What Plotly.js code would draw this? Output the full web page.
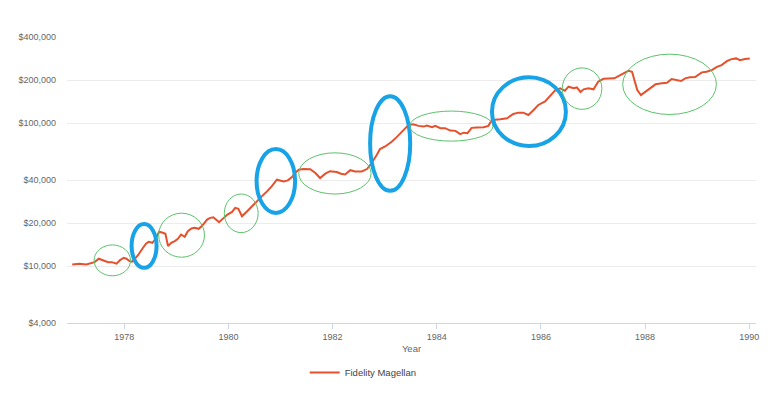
<!DOCTYPE html>
<html>
<head>
<meta charset="utf-8">
<script src="https://cdn.plot.ly/plotly-3.0.1.min.js"></script>
<style>html,body{margin:0;padding:0;background:#fff;}#chart{width:773px;height:393px;}</style>
</head>
<body>
<div id="chart"></div>
<script>
// Fidelity Magellan growth of $10,000
var years = [1977.00,1977.14,1977.27,1977.37,1977.43,1977.51,1977.59,1977.69,1977.76,1977.85,1977.92,1977.99,
1978.04,1978.10,1978.15,1978.26,1978.36,1978.42,1978.47,1978.54,1978.60,1978.67,1978.74,1978.79,1978.84,1978.90,1978.97,
1979.03,1979.09,1979.16,1979.22,1979.29,1979.35,1979.43,1979.50,1979.59,1979.65,1979.71,1979.76,1979.82,1979.91,1979.98,
1980.07,1980.13,1980.19,1980.26,1980.36,1980.45,1980.55,1980.64,1980.74,1980.83,1980.93,1980.99,
1981.06,1981.14,1981.22,1981.28,1981.35,1981.44,1981.57,1981.67,1981.76,1981.86,1981.95,
1982.08,1982.16,1982.24,1982.34,1982.43,1982.56,1982.66,1982.75,1982.85,1982.91,
1983.01,1983.14,1983.23,1983.33,1983.39,1983.46,1983.55,1983.65,1983.75,1983.81,1983.91,1983.97,
1984.07,1984.16,1984.26,1984.36,1984.45,1984.52,1984.59,1984.67,1984.77,1984.90,1984.99,
1985.06,1985.22,1985.35,1985.47,1985.57,1985.66,1985.76,1985.86,1985.95,
1986.08,1986.18,1986.27,1986.37,1986.46,1986.53,1986.63,1986.69,1986.76,1986.82,1986.91,
1987.01,1987.10,1987.20,1987.30,1987.41,1987.55,1987.68,1987.75,1987.81,1987.85,1987.92,
1988.00,1988.10,1988.20,1988.32,1988.42,1988.51,1988.61,1988.69,1988.77,1988.86,1988.96,
1989.02,1989.09,1989.18,1989.28,1989.38,1989.47,1989.57,1989.66,1989.75,1989.82,1989.92,1990.01];
var magellan = [10275,10390,10280,10560,10660,11260,10960,10660,10660,10390,11010,11440,
11260,10835,10730,11870,13440,14395,14790,14555,15520,17370,17090,16820,13790,14555,14940,
15520,16635,16030,17540,18310,18520,18225,19215,21150,21740,21950,21150,20260,21740,22930,
23940,25530,25120,22310,24170,26190,28380,30740,33320,36100,40200,39560,
39120,39760,41980,44760,47200,47720,47570,44760,41300,44260,46070,
45480,44260,43700,46820,45920,45920,47720,52560,60040,65780,
68590,74320,79760,87570,92150,97160,98240,95600,94540,96070,93630,95600,
92150,92150,88680,88250,83690,85730,85050,92600,93330,93630,95600,
105270,106460,108170,115890,118340,118340,114030,123600,133900,
141660,154700,169000,175100,168500,179700,175100,177400,165000,172300,175100,
172300,194700,203900,203900,205500,219200,232200,228500,187600,170400,157200,
165800,176800,186700,189700,191500,203200,200000,196800,205500,208900,209900,
216700,226300,228500,234800,247600,254400,271300,280200,283400,275700,280200,283400];
var seriesName = "Fidelity Magellan";
var yTickVals = [4000,10000,20000,40000,100000,200000,400000];
var yTickText = ["$4,000","$10,000","$20,000","$40,000","$100,000","$200,000","$400,000"];
var xTickVals = [1978,1980,1982,1984,1986,1988,1990];
var xTickText = ["1978","1980","1982","1984","1986","1988","1990"];

// highlight ellipses: [x0, x1, y0(paper), y1(paper), kind]
var ellipses = [
  [1977.42,1978.12,0.165,0.273,"g"],
  [1978.14,1978.62,0.193,0.346,"b"],
  [1978.66,1979.54,0.230,0.384,"g"],
  [1979.92,1980.57,0.316,0.451,"g"],
  [1980.54,1981.28,0.385,0.608,"b"],
  [1981.35,1982.74,0.451,0.595,"g"],
  [1982.72,1983.49,0.462,0.793,"b"],
  [1983.48,1985.08,0.636,0.741,"g"],
  [1985.06,1986.48,0.619,0.859,"b"],
  [1986.41,1987.17,0.747,0.892,"g"],
  [1987.57,1989.37,0.729,0.940,"g"]
];
var shapes = ellipses.map(function(e){
  var blue = e[4] === "b";
  return {type:"circle", xref:"x", yref:"paper", x0:e[0], x1:e[1], y0:e[2], y1:e[3],
    line:{color: blue ? "#18a3e6" : "#5cc26c", width: blue ? 4 : 1}, fillcolor:"rgba(0,0,0,0)", layer:"above"};
});

var font = "'Liberation Sans', Arial, sans-serif";
var trace = {x: years, y: magellan, type:"scatter", mode:"lines", name: seriesName,
  line:{color:"#e5502d", width:2}};
var layout = {
  width:773, height:393,
  margin:{l:67, r:17, t:37, b:70},
  paper_bgcolor:"#fff", plot_bgcolor:"#fff",
  font:{family:font, size:9, color:"#666"},
  showlegend:true,
  legend:{orientation:"h", x:0.345, xanchor:"left", xref:"paper", yref:"container", y:0.052, yanchor:"middle",
    font:{family:font, size:9.5, color:"#444"}},
  xaxis:{type:"linear", range:[1976.9,1990.13], tickvals:xTickVals, ticktext:xTickText, automargin:false,
    showgrid:false, zeroline:false, showline:true, linecolor:"#ccd6eb", linewidth:1,
    ticks:"outside", ticklen:5, tickcolor:"#ccd6eb", tickfont:{size:9, color:"#666"},
    title:{text:"Year", font:{size:9.5, color:"#666"}, standoff:4}},
  yaxis:{type:"log", range:[Math.log10(4000), Math.log10(400000)], tickvals:yTickVals, ticktext:yTickText, automargin:false,
    showgrid:true, gridcolor:"#ececec", zeroline:false, showline:false, ticks:"",
    ticklabelstandoff:10, tickfont:{size:9, color:"#666"}},
  shapes: shapes
};
Plotly.newPlot("chart", [trace], layout, {displayModeBar:false, staticPlot:true});
</script>
</body>
</html>
